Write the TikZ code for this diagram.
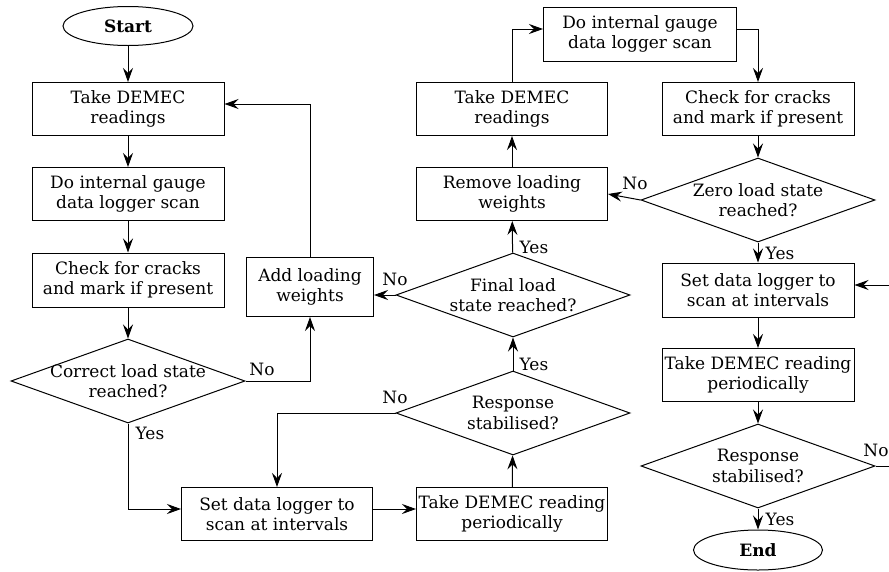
\documentclass[tikz,border=0pt]{standalone}
\usepackage{fontspec}
\setmainfont{DejaVu Serif}
\usetikzlibrary{shapes.geometric,arrows.meta,calc}
\begin{document}
\begin{tikzpicture}[x=1pt,y=-1pt,line width=1pt,
  every node/.style={font=\fontsize{17}{20.5}\selectfont},
  box/.style={draw,rectangle,minimum width=192pt,minimum height=53pt,inner sep=0pt,align=center},
  term/.style={draw,ellipse,minimum width=130pt,minimum height=39pt,inner sep=0pt,font=\fontsize{17}{20.5}\selectfont\bfseries},
  decision/.style={draw,diamond,minimum width=234pt,minimum height=84pt,inner sep=0pt},
  arr/.style={-{Stealth[length=14pt,width=10pt,inset=5pt]}},
  lbl/.style={inner sep=0pt}]
\useasboundingbox (0,0) rectangle (889,571);
\clip (0,0) rectangle (889,571);
% left column
\node[term] (start) at (128,26) {Start};
\node[box] (b1) at (128,109) {Take DEMEC\\readings};
\node[box] (b2) at (128,194) {Do internal gauge\\data logger scan};
\node[box,minimum height=54pt] (b3) at (128,280) {Check for cracks\\and mark if present};
\node[decision,label={[align=center]center:Correct load state\\reached?}] (d1) at (128,381) {};
\node[box,minimum width=127pt,minimum height=59pt] (add) at (310,287) {Add loading\\weights};
\node[box,minimum width=191pt] (set1) at (277,514) {Set data logger to\\scan at intervals};
% middle column
\node[box,minimum width=191pt] (per1) at (512,514) {Take DEMEC reading\\periodically};
\node[decision,label={[align=center]center:Response\\stabilised?}] (d2) at (513,413) {};
\node[decision,label={[align=center]center:Final load\\state reached?}] (d3) at (513,295) {};
\node[box,minimum width=191pt] (rem) at (512,194) {Remove loading\\weights};
\node[box,minimum width=191pt] (t2) at (512,109) {Take DEMEC\\readings};
% right column
\node[box,minimum width=193pt,minimum height=54pt] (int2) at (640,34) {Do internal gauge\\data logger scan};
\node[box] (chk2) at (758,109) {Check for cracks\\and mark if present};
\node[decision,label={[align=center]center:Zero load state\\reached?}] (d4) at (758,200) {};
\node[box,minimum height=54pt] (set2) at (758,290) {Set data logger to\\scan at intervals};
\node[box] (per2) at (758,375) {Take DEMEC reading\\periodically};
\node[decision,label={[align=center]center:Response\\stabilised?}] (d5) at (758,466) {};
\node[term,minimum width=129pt,minimum height=40pt] (end) at (758,550) {End};
% labels
\node[lbl] (l1) at (262,369) {No};
\node[lbl] (l2) at (150,433) {Yes};
\node[lbl] (l3) at (395,397) {No};
\node[lbl] (l4) at (534,364) {Yes};
\node[lbl] (l5) at (395,279) {No};
\node[lbl] (l6) at (534,247) {Yes};
\node[lbl] (l7) at (635,183) {No};
\node[lbl] (l8) at (780,253) {Yes};
\node[lbl] (l9) at (876,450) {No};
\node[lbl] (l10) at (780,519) {Yes};
\coordinate (rr) at (893,466);
% connectors
\draw[arr] (start) -- (b1);
\draw[arr] (b1) -- (b2);
\draw[arr] (b2) -- (b3);
\draw[arr] (b3) -- (d1);
\draw[arr] (d1.east) -| (add.south);
\draw[arr] (add.north) |- ([yshift=5pt]b1.east);
\draw[arr] (d1.south) |- ([yshift=5pt]set1.west);
\draw[arr] ([yshift=5pt]set1.east) -- ([yshift=5pt]per1.west);
\draw[arr] (per1) -- (d2);
\draw[arr] (d2.west) -| (set1.north);
\draw[arr] (d2) -- (d3);
\draw[arr] (d3.west) -- (d3.west -| add.east);
\draw[arr] (d3) -- (rem);
\draw[arr] (rem) -- (t2);
\draw[arr] (t2.north) |- ([yshift=5pt]int2.west);
\draw[arr] ([yshift=5pt]int2.east) -| (chk2.north);
\draw[arr] (chk2) -- (d4);
\draw[arr] (d4.west) -- (rem.east);
\draw[arr] (d4) -- (set2);
\draw[arr] (set2) -- (per2);
\draw[arr] (per2) -- (d5);
\draw[arr] (d5) -- (end);
\draw[arr] (d5.east) -- (rr) |- ([yshift=5pt]set2.east);
\end{tikzpicture}
\end{document}
